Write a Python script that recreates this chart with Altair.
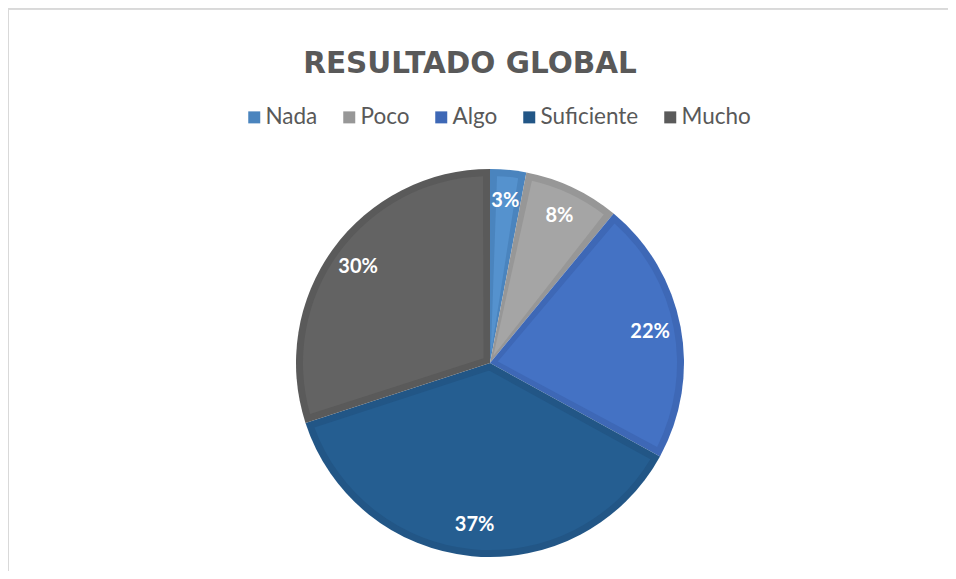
import altair as alt
import pandas as pd

categories = ["Nada", "Poco", "Algo", "Suficiente", "Mucho"]
values = [3, 8, 22, 37, 30]
labels = ["3%", "8%", "22%", "37%", "30%"]
fill_colors = ["#5592CE", "#A5A5A5", "#4472C4", "#255E91", "#636363"]
edge_colors = ["#4A84BE", "#979797", "#3E68B6", "#225686", "#5A5A5A"]

df = pd.DataFrame({
    "categoria": categories,
    "valor": values,
    "etiqueta": labels,
    "idx": list(range(len(categories))),
})

W, H = 940, 563
CX, CY = 482, 355

base = alt.Chart(df).encode(
    theta=alt.Theta("valor:Q", stack=True),
    order=alt.Order("idx:Q"),
    x=alt.value(CX),
    y=alt.value(CY),
)

edge = base.mark_arc(outerRadius=194).encode(
    color=alt.Color(
        "categoria:N",
        scale=alt.Scale(domain=categories, range=edge_colors),
        legend=alt.Legend(
            title=None,
            orient="none",
            direction="horizontal",
            legendX=235,
            legendY=98,
            symbolType="square",
            symbolSize=144,
            symbolStrokeWidth=0,
            symbolOpacity=1,
            labelFont="Lato",
            labelFontSize=22.5,
            labelColor="#595959",
            labelOffset=0,
            columnPadding=20,
        ),
    )
)

inner = base.mark_arc(outerRadius=187, innerRadius=8, padAngle=0.075).encode(
    color=alt.Color(
        "categoria:N",
        scale=alt.Scale(domain=categories, range=fill_colors),
        legend=None,
    )
)

text = base.mark_text(
    radius=163, font="Lato", fontSize=20, fontWeight="bold", color="white"
).encode(text="etiqueta:N")

top_line = alt.Chart(df).mark_rule(color="#D9D9D9", strokeWidth=1).encode(
    x=alt.value(0), x2=alt.value(W), y=alt.value(1)
)
left_line = alt.Chart(df).mark_rule(color="#D9D9D9", strokeWidth=1).encode(
    x=alt.value(0.5), y=alt.value(1), y2=alt.value(H)
)

chart = (
    alt.layer(top_line, left_line, edge, inner, text)
    .resolve_scale(color="independent")
    .properties(
        width=W,
        height=H,
        padding=0,
        autosize=alt.AutoSizeParams(type="none"),
        title=alt.TitleParams(
            "RESULTADO GLOBAL",
            font="DejaVu Sans",
            fontSize=29.5,
            fontWeight="bold",
            color="#595959",
            anchor="middle",
            frame="group",
            offset=-71,
            dx=-8,
        ),
    )
    .configure_view(stroke=None)
    .configure(background="white")
)

chart.save("out.html", embed_options={"renderer": "svg", "actions": False})
